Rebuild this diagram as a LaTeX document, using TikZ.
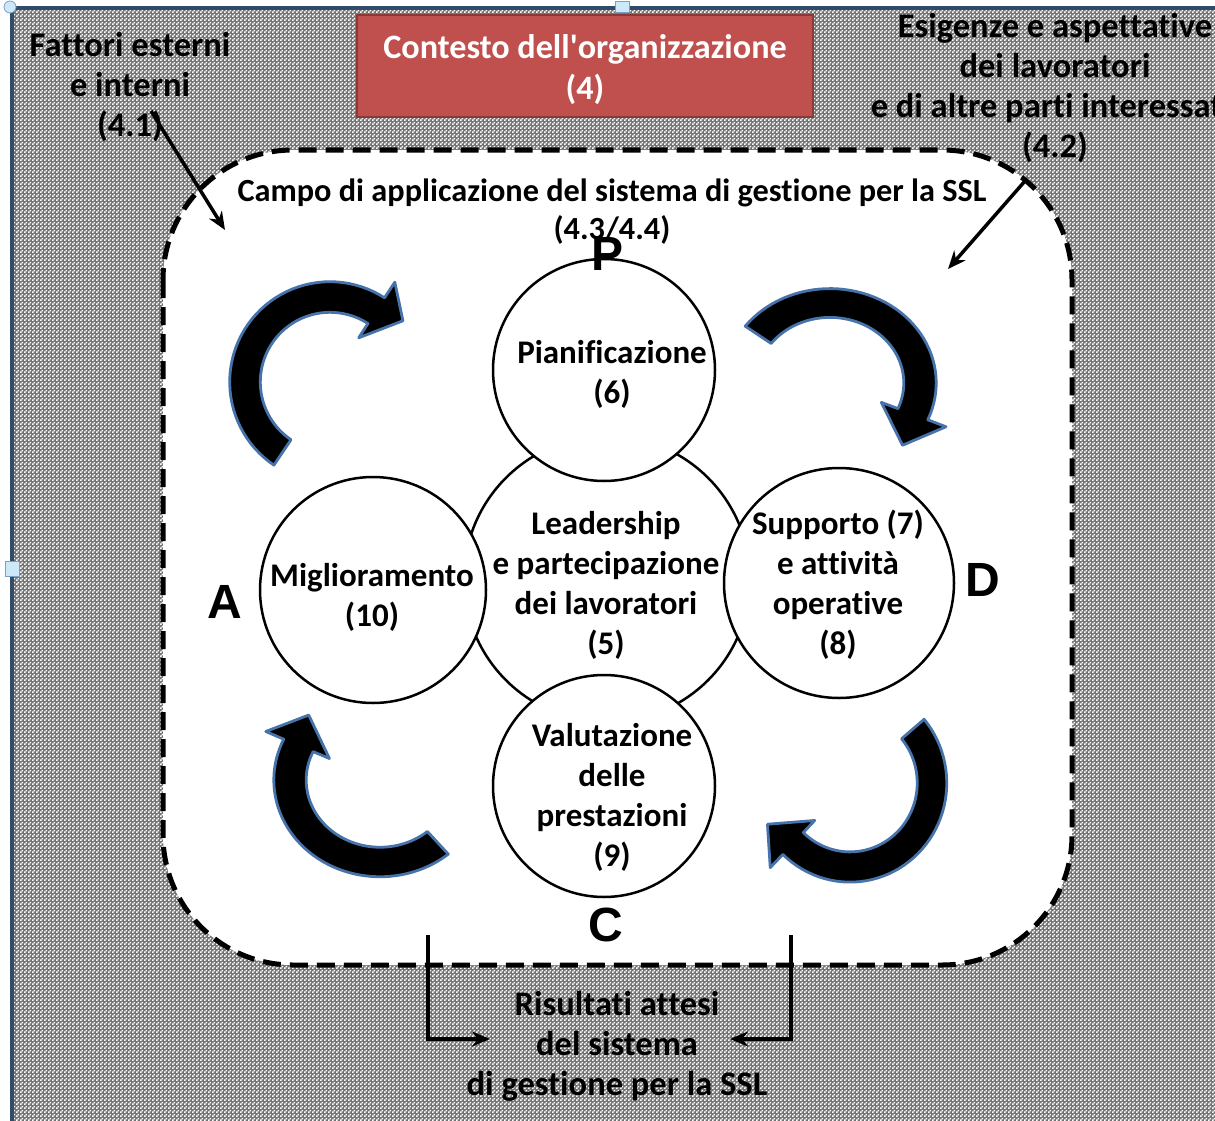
\documentclass[tikz,border=0pt]{standalone}
\usepackage{fontspec}
\setmainfont{Carlito}[Ligatures={NoCommon}]
\newfontfamily\arialf{Liberation Sans}
\usetikzlibrary{arrows.meta,patterns}
\pgfdeclarepatternformonly{finechecker}{\pgfqpoint{0pt}{0pt}}{\pgfqpoint{4pt}{4pt}}{\pgfqpoint{4pt}{4pt}}{%
  \pgfpathrectangle{\pgfqpoint{0pt}{0pt}}{\pgfqpoint{2pt}{2pt}}%
  \pgfpathrectangle{\pgfqpoint{2pt}{2pt}}{\pgfqpoint{2pt}{2pt}}%
  \pgfusepath{fill}}
\definecolor{bggray}{RGB}{115,115,115}
\definecolor{framec}{RGB}{50,75,105}
\definecolor{handlec}{RGB}{205,232,248}
\definecolor{handled}{RGB}{120,160,200}
\definecolor{redbox}{RGB}{192,80,77}
\definecolor{redboxd}{RGB}{140,56,54}
\definecolor{glowc}{RGB}{70,115,170}
\newcommand{\bigtxt}{\fontsize{33}{40}\selectfont\bfseries}
\newcommand{\outtxt}{\fontsize{34.5}{40}\selectfont\bfseries}
\newcommand{\midtxt}{\fontsize{32.3}{38}\selectfont\bfseries}
% cx cy rx ry tail head-base tip
\newcommand{\cyclearrow}[7]{%
  \filldraw[cyc]
    plot[domain=0:1,samples=50,variable=\t]
      ({#1+1.18*#3*cos(#5+(#6-#5)*\t)},{#2+1.18*#4*sin(#5+(#6-#5)*\t)})
    -- ({#1+1.40*#3*cos(#6)},{#2+1.40*#4*sin(#6)})
    -- ({#1+1.12*#3*cos(#7)},{#2+1.12*#4*sin(#7)})
    -- ({#1+0.62*#3*cos(#6)},{#2+0.62*#4*sin(#6)})
    -- plot[domain=0:1,samples=50,variable=\t]
      ({#1+0.82*#3*cos(#6-(#6-#5)*\t)},{#2+0.82*#4*sin(#6-(#6-#5)*\t)})
    -- cycle;}
\begin{document}
\begin{tikzpicture}[x=1pt,y=-1pt,
  circ/.style={circle, draw=black, line width=2.5pt, fill=white, inner sep=0pt},
  txt/.style={align=center, font=\bigtxt, inner sep=0pt, text=black},
  otxt/.style={align=center, font=\outtxt, inner sep=0pt, text=black},
  letter/.style={font=\arialf\bfseries\fontsize{48}{50}\selectfont, inner sep=0pt},
  ptr/.style={line width=3.5pt, -{Stealth[length=18pt,width=15pt]}},
  cyc/.style={fill=black, draw=glowc, line width=2.8pt, line join=round},
  handle/.style={fill=handlec, draw=handled, line width=0.8pt}]
\useasboundingbox (0,0) rectangle (1215,1121);
\clip (0,0) rectangle (1215,1121);
\fill[white] (0,0) rectangle (1215,1121);
\fill[bggray] (14,10) rectangle (1215,1121);
\fill[pattern=finechecker, pattern color=white] (14,10) rectangle (1215,1121);
\draw[framec, line width=4pt] (12,1121) -- (12,8) -- (1215,8);
\draw[handle] (5,561) rectangle (19,576);
\draw[handle] (615,1) rectangle (629,12);
\draw[handle] (10,7) circle (6);

% scope frame
\draw[fill=white, line width=5pt, dash pattern=on 18pt off 9pt, rounded corners=130pt]
  (163,150) rectangle (1072,965);

% red box
\node[fill=redbox, draw=redboxd, line width=2pt, minimum width=456pt, minimum height=102pt,
      align=center, font=\fontsize{34.2}{41}\selectfont\bfseries, text=white, inner sep=0pt] (ctx) at (585,66)
  {};
\node[align=center, font=\fontsize{34.2}{41}\selectfont\bfseries, text=white, inner sep=0pt] (ctxT) at (585,70)
  {Contesto dell\textquotesingle organizzazione\\(4)};

% outer texts
\node[otxt] (fatt) at (130,87) {Fattori esterni\\e interni\\(4.1)};
\node[otxt] (esig) at (1055,88) {Esigenze e aspettative\\dei lavoratori\\e di altre parti interessate\\(4.2)};
\node[align=center, font=\midtxt, inner sep=0pt] (campo) at (612,212)
  {Campo di applicazione del sistema di gestione per la SSL\\(4.3/4.4)};
\node[otxt] (risul) at (617,1046) {Risultati attesi\\del sistema\\di gestione per la SSL};

% circles
\node[circ, minimum size=286pt] (lead) at (607,579) {};
\node[circ, minimum size=222pt] (pian) at (604,370) {};
\node[circ, minimum size=226pt] (migl) at (373,590) {};
\node[circ, minimum size=230pt] (supp) at (839,583) {};
\node[circ, minimum size=222pt] (valu) at (604,786) {};

\node[txt] (leadT) at (606,585) {Leadership\\e partecipazione\\dei lavoratori\\(5)};
\node[txt] (pianT) at (612,374) {Pianificazione\\(6)};
\node[txt] (miglT) at (372,597) {Miglioramento\\(10)};
\node[txt] (suppT) at (838,585) {Supporto (7)\\e attività\\operative\\(8)};
\node[txt] (valuT) at (612,797) {Valutazione\\delle\\prestazioni\\(9)};

% PDCA letters
\node[letter] (pL) at (607,254) {P};
\node[letter] (dL) at (983,580) {D};
\node[letter] (cL) at (606,925) {C};
\node[letter] (aL) at (225,602) {A};

% cycle arrows
\cyclearrow{330}{382}{85}{85}{124}{303}{320}
\cyclearrow{830}{383}{90}{80}{217}{383}{404}
\cyclearrow{850}{783}{82}{84}{320}{494}{514}
\cyclearrow{380}{780}{90}{82}{50}{205}{225}

% pointer arrows
\coordinate (tlS) at (151,111);
\coordinate (tlE) at (225,230);
\coordinate (trS) at (1025,181);
\coordinate (trE) at (948,269);
\draw[ptr] (tlS) -- (tlE);
\draw[ptr] (trS) -- (trE);
\coordinate (blS) at (428,935);
\coordinate (blE) at (490,1039);
\coordinate (brS) at (791,935);
\coordinate (brE) at (730,1039);
\draw[ptr] (blS) |- (blE);
\draw[ptr] (brS) |- (brE);
\end{tikzpicture}
\end{document}
